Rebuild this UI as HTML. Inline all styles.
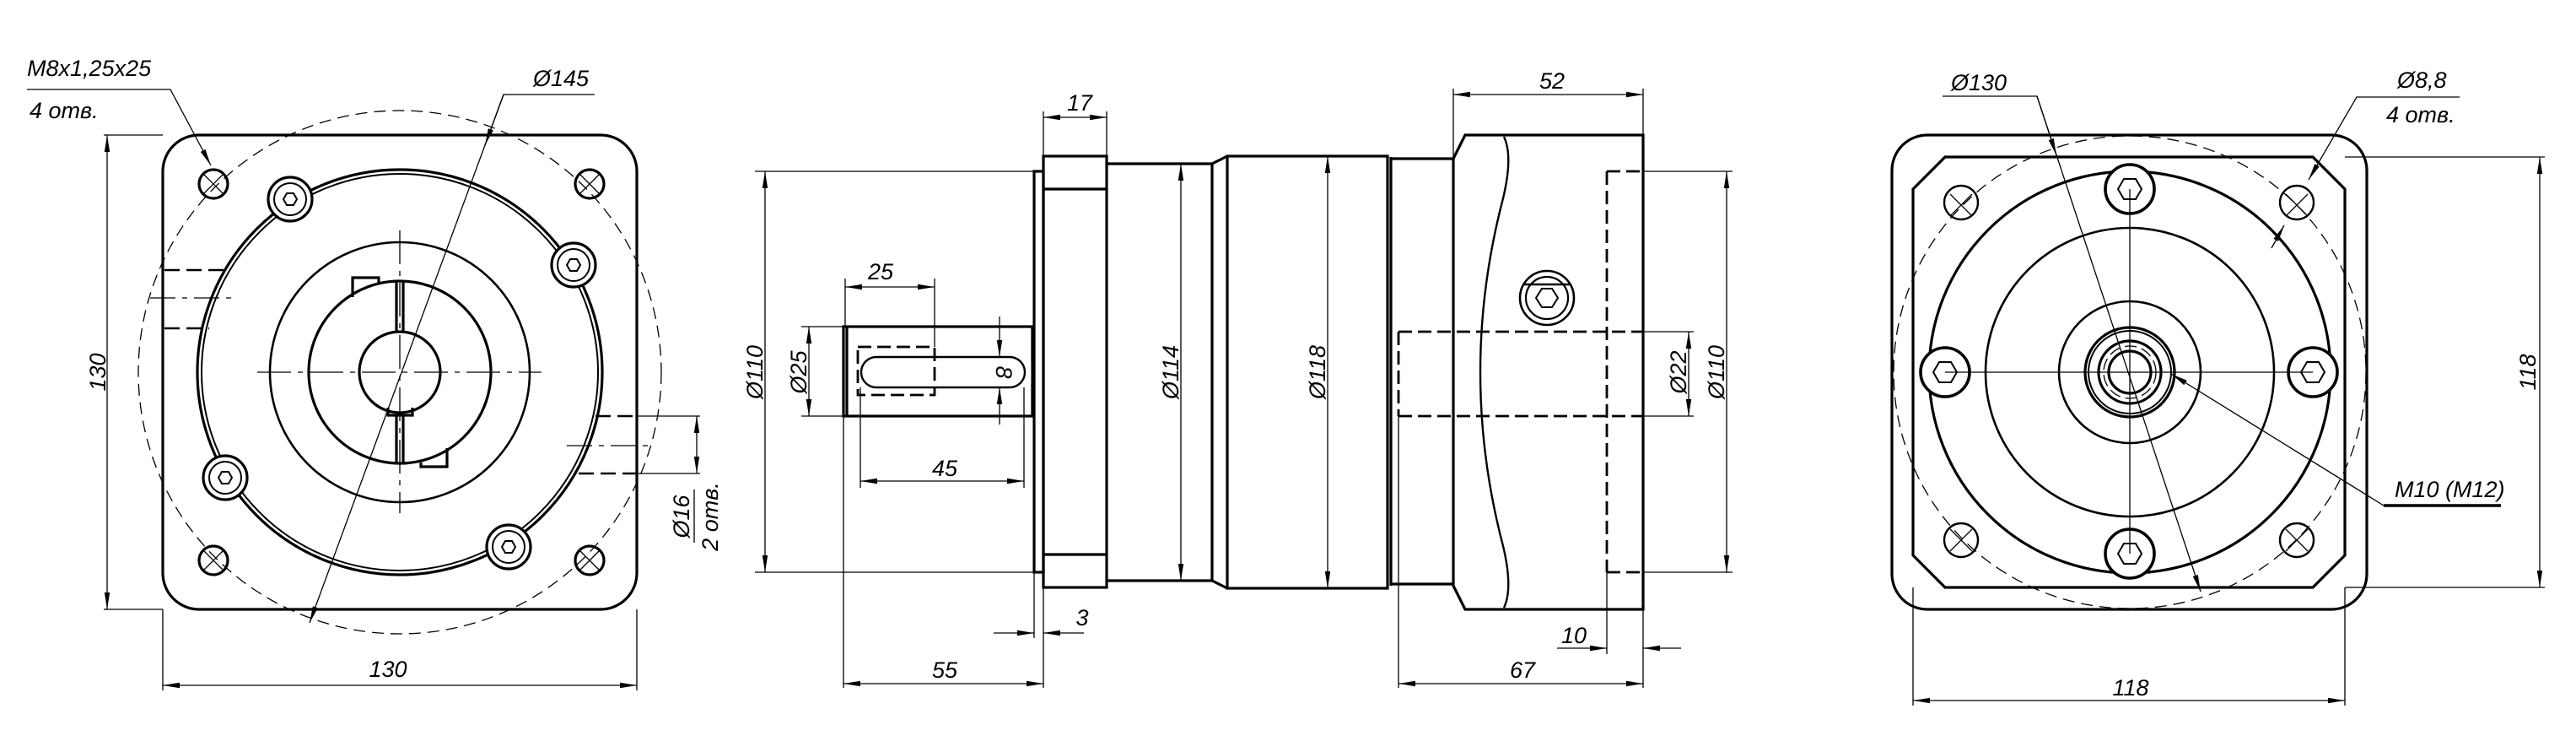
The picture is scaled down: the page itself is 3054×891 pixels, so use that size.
<!DOCTYPE html>
<html><head><meta charset="utf-8"><style>
html,body{margin:0;padding:0;background:#fff}
svg{display:block}
text{font-family:"Liberation Sans",sans-serif;font-style:italic;font-size:27px;fill:#000}
</style></head><body>
<svg width="3054" height="891" viewBox="0 0 3054 891" xmlns="http://www.w3.org/2000/svg">
<defs>
<marker id="a" viewBox="0 0 20 8" refX="20" refY="4" markerWidth="20" markerHeight="8" markerUnits="userSpaceOnUse" orient="auto-start-reverse"><path d="M0,0.8 L20,4 L0,7.2z" fill="#000"/></marker>
</defs>
<g fill="none" stroke="#000">
<!-- ========== LEFT VIEW ========== -->
<g stroke-width="3.2">
<rect x="193" y="160" width="562" height="562" rx="43"/>
<circle cx="474" cy="441" r="240"/>
<circle cx="474" cy="441" r="235" stroke-width="2"/>
<circle cx="474" cy="441" r="154" stroke-width="2.6"/>
<circle cx="474" cy="441" r="108"/>
<circle cx="474" cy="441" r="48"/>
<g>
<circle cx="253" cy="218" r="17"/><circle cx="699" cy="218" r="17"/>
<circle cx="253" cy="664" r="17"/><circle cx="699" cy="664" r="17"/>
</g>
<g fill="#fff">
<circle cx="344" cy="236" r="26"/><circle cx="680" cy="314" r="26"/>
<circle cx="267" cy="566" r="26"/><circle cx="603" cy="648" r="26"/>
</g>
<g stroke-width="2">
<circle cx="344" cy="236" r="19"/><circle cx="680" cy="314" r="19"/>
<circle cx="267" cy="566" r="19"/><circle cx="603" cy="648" r="19"/>
<polygon points="352,236 348,243 340,243 336,236 340,229 348,229"/>
<polygon points="688,314 684,321 676,321 672,314 676,307 684,307"/>
<polygon points="275,566 271,573 263,573 259,566 263,559 271,559"/>
<polygon points="611,648 607,655 599,655 595,648 599,641 607,641"/>
</g>
<path d="M470,334 V392 M478,334 V392 M470,493 V548 M478,493 V548"/>
<path d="M418,352 V329 H449 V335"/>
<path d="M499,548 V553 H530 V531"/>
<path d="M460,483 V492 H489 V483"/>
</g>
<g stroke-width="1.3">
<path d="M242,207 L264,229 M264,207 L242,229 M688,207 L710,229 M710,207 L688,229 M242,653 L264,675 M264,653 L242,675 M688,653 L710,675 M710,653 L688,675"/>
<circle cx="474" cy="441" r="310" stroke-dasharray="14 8"/>
<path d="M305,441 H642" stroke-dasharray="40 8 6 8"/>
<path d="M474,273 V608" stroke-dasharray="40 8 6 8"/>
<path d="M705,112 H597 L367,738" marker-end="url(#a)"/>
<path d="M597,112 L575,172" marker-end="url(#a)"/>
<path d="M32,106 H202 L250,196" marker-end="url(#a)"/>
<path d="M123,160 H193 M123,722 H193"/>
<path d="M127,160 V722" marker-start="url(#a)" marker-end="url(#a)"/>
<path d="M193,722 V818 M755,722 V818"/>
<path d="M193,812 H755" marker-start="url(#a)" marker-end="url(#a)"/>
<path d="M178,353 H278" stroke-dasharray="30 8 6 8"/>
<path d="M672,528 H772" stroke-dasharray="30 8 6 8"/>
<path d="M755,493 H830 M755,561 H830"/>
<path d="M826,493 V561" marker-start="url(#a)" marker-end="url(#a)"/>
<path d="M823,580 V643"/>
</g>
<g stroke-width="2.6" stroke-dasharray="18 8">
<path d="M195,320 H270 M195,389 H248"/>
<path d="M706,493 H755 M686,561 H760"/>
</g>

<!-- ========== MIDDLE VIEW ========== -->
<g stroke-width="3.2">
<rect x="1000" y="387" width="224" height="106"/>
<path d="M1004,387 V493"/>
<rect x="1021" y="423" width="194" height="36" rx="18" stroke-width="2.4"/>
<rect x="1226" y="203" width="11" height="475"/>
<path d="M1224,386 V428 M1224,455 V493"/>
<rect x="1237" y="185" width="75" height="511"/>
<path d="M1237,224 H1312 M1237,657 H1312"/>
<path d="M1312,194 H1437 L1455,185 M1312,688 H1437 L1455,697 M1437,194 V688"/>
<rect x="1455" y="185" width="190" height="512"/>
<path d="M1649,186 V694"/>
<path d="M1649,188 H1723 M1649,692 H1723"/>
<path d="M1723,188 L1737,160 H1948 V722 H1737 L1723,694 Z"/>
<path d="M1783,162 Q1794,185 1782,235 Q1728,441 1782,647 Q1794,697 1783,720" stroke-width="2.4"/>
<circle cx="1834" cy="353" r="32" stroke-width="2.6"/>
<circle cx="1834" cy="353" r="25" stroke-width="2.2"/>
<path d="M1806,337 H1862" stroke-width="2.6"/>
<polygon points="1847,353 1840,364 1828,364 1821,353 1828,342 1840,342" stroke-width="2"/>
</g>
<g stroke-width="2.8" stroke-dasharray="16 7">
<path d="M1017,411 H1108 V468 H1017 Z"/>
<path d="M1905,203 V678 M1905,203 H1948 M1905,678 H1948"/>
<path d="M1658,393 H1948 M1658,493 H1948 M1658,393 V493"/>
</g>
<g stroke-width="1.3">
<path d="M895,203 H1226 M895,678 H1226"/>
<path d="M907,203 V678" marker-start="url(#a)" marker-end="url(#a)"/>
<path d="M950,387 H1000 M950,493 H1000"/>
<path d="M959,387 V493" marker-start="url(#a)" marker-end="url(#a)"/>
<path d="M1002,330 V387 M1108,330 V411"/>
<path d="M1002,340 H1108" marker-start="url(#a)" marker-end="url(#a)"/>
<path d="M1185,375 V423" marker-end="url(#a)"/>
<path d="M1185,503 V459" marker-end="url(#a)"/>
<path d="M1020,459 V578 M1214,459 V578"/>
<path d="M1020,570 H1214" marker-start="url(#a)" marker-end="url(#a)"/>
<path d="M1237,132 V185 M1312,132 V185"/>
<path d="M1237,139 H1312" marker-start="url(#a)" marker-end="url(#a)"/>
<path d="M1226,678 V756 M1237,696 V815"/>
<path d="M1178,750 H1226" marker-end="url(#a)"/>
<path d="M1285,750 H1237" marker-end="url(#a)"/>
<path d="M1000,493 V815"/>
<path d="M1000,810 H1237" marker-start="url(#a)" marker-end="url(#a)"/>
<path d="M1400,194 V688" marker-start="url(#a)" marker-end="url(#a)"/>
<path d="M1574,185 V697" marker-start="url(#a)" marker-end="url(#a)"/>
<path d="M1723,105 V188 M1948,105 V160"/>
<path d="M1723,112 H1948" marker-start="url(#a)" marker-end="url(#a)"/>
<path d="M1948,393 H2008 M1948,493 H2008 M1948,203 H2054 M1948,678 H2054"/>
<path d="M2002,393 V493" marker-start="url(#a)" marker-end="url(#a)"/>
<path d="M2047,203 V678" marker-start="url(#a)" marker-end="url(#a)"/>
<path d="M1905,678 V775 M1948,722 V815 M1658,493 V815"/>
<path d="M1846,768 H1905" marker-end="url(#a)"/>
<path d="M1993,768 H1948" marker-end="url(#a)"/>
<path d="M1658,810 H1948" marker-start="url(#a)" marker-end="url(#a)"/>
</g>

<!-- ========== RIGHT VIEW ========== -->
<g stroke-width="3.2">
<rect x="2243" y="160" width="563" height="562" rx="42"/>
<path d="M2306,186 H2742 L2780,224 V658 L2742,696 H2306 L2268,658 V224 Z"/>
<circle cx="2525" cy="441" r="238"/>
<circle cx="2525" cy="441" r="171" stroke-width="2.6"/>
<circle cx="2525" cy="441" r="84" stroke-width="2.6"/>
<circle cx="2525" cy="441" r="53"/>
<circle cx="2525" cy="441" r="49" stroke-width="2"/>
<circle cx="2525" cy="441" r="37"/>
<circle cx="2525" cy="441" r="25"/>
<g stroke-width="2.4">
<circle cx="2325" cy="240" r="20"/><circle cx="2723" cy="240" r="20"/>
<circle cx="2325" cy="640" r="20"/><circle cx="2723" cy="640" r="20"/>
</g>
<g fill="#fff" stroke-width="3.6">
<circle cx="2525" cy="224" r="29"/><circle cx="2525" cy="656" r="29"/>
<circle cx="2306" cy="441" r="29"/><circle cx="2742" cy="441" r="29"/>
</g>
<g stroke-width="2">
<polygon points="2539,224 2532,236 2518,236 2511,224 2518,212 2532,212"/>
<polygon points="2539,656 2532,668 2518,668 2511,656 2518,644 2532,644"/>
<polygon points="2320,441 2313,453 2299,453 2292,441 2299,429 2313,429"/>
<polygon points="2756,441 2749,453 2735,453 2728,441 2735,429 2749,429"/>
</g>
</g>
<g stroke-width="1.3">
<circle cx="2525" cy="441" r="31" stroke-dasharray="14 6"/>
<circle cx="2525" cy="441" r="280" stroke-dasharray="14 8"/>
<path d="M2306,441 H2742 M2525,224 V656"/>
<path d="M2312,230 L2338,256 M2338,230 L2312,256 M2710,230 L2736,256 M2736,230 L2710,256 M2312,627 L2338,653 M2338,627 L2312,653 M2710,627 L2736,653 M2736,627 L2710,653"/>
<path d="M2303,114 H2415 L2609,701" marker-end="url(#a)"/>
<path d="M2415,114 L2438,184" marker-end="url(#a)"/>
<path d="M2916,115 H2794 L2737,213" marker-end="url(#a)"/>
<path d="M2693,294 L2708,267" marker-end="url(#a)"/>
<path d="M2965,599 H2826 L2574,443" marker-end="url(#a)"/>
<path d="M2780,186 H3017 M2780,696 H3017"/>
<path d="M3011,186 V696" marker-start="url(#a)" marker-end="url(#a)"/>
<path d="M2268,696 V836 M2780,696 V836"/>
<path d="M2268,830 H2780" marker-start="url(#a)" marker-end="url(#a)"/>
</g>
<g stroke-width="3.6"><path d="M2826,599 H2965"/></g>
</g>

<!-- TEXT -->
<text x="32" y="90">M8x1,25x25</text>
<text x="35" y="140">4 отв.</text>
<text x="632" y="102">Ø145</text>
<text x="460" y="802" text-anchor="middle">130</text>
<text transform="translate(125,441) rotate(-90)" text-anchor="middle">130</text>
<text transform="translate(817,612) rotate(-90)" text-anchor="middle">Ø16</text>
<text transform="translate(851,612) rotate(-90)" text-anchor="middle">2 отв.</text>

<text transform="translate(904,441) rotate(-90)" text-anchor="middle">Ø110</text>
<text transform="translate(956,441) rotate(-90)" text-anchor="middle">Ø25</text>
<text transform="translate(1181,441) rotate(90)" text-anchor="middle">8</text>
<text x="1044" y="331" text-anchor="middle">25</text>
<text x="1120" y="564" text-anchor="middle">45</text>
<text x="1280" y="131" text-anchor="middle">17</text>
<text x="1283" y="741" text-anchor="middle">3</text>
<text x="1120" y="803" text-anchor="middle">55</text>
<text transform="translate(1397,441) rotate(-90)" text-anchor="middle">Ø114</text>
<text transform="translate(1571,441) rotate(-90)" text-anchor="middle">Ø118</text>
<text x="1840" y="105" text-anchor="middle">52</text>
<text transform="translate(1999,441) rotate(-90)" text-anchor="middle">Ø22</text>
<text transform="translate(2044,441) rotate(-90)" text-anchor="middle">Ø110</text>
<text x="1866" y="762" text-anchor="middle">10</text>
<text x="1805" y="803" text-anchor="middle">67</text>

<text x="2313" y="107">Ø130</text>
<text x="2842" y="104">Ø8,8</text>
<text x="2829" y="145">4 отв.</text>
<text x="2839" y="589">M10 (M12)</text>
<text transform="translate(3006,441) rotate(-90)" text-anchor="middle">118</text>
<text x="2526" y="824" text-anchor="middle">118</text>
</svg>
</body></html>
